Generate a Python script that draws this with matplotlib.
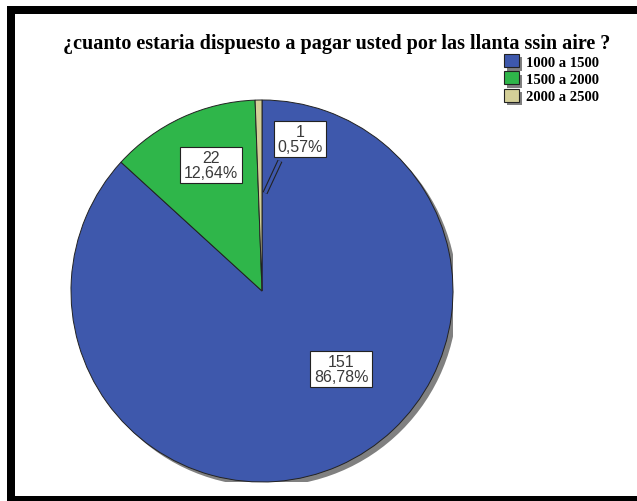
import numpy as np
import matplotlib
matplotlib.use('Agg')
import matplotlib.pyplot as plt
from matplotlib.patches import Circle, Rectangle, Patch
from matplotlib.transforms import ScaledTranslation
import matplotlib.patheffects as pe

# datos de la encuesta
categorias = ['1000 a 1500', '1500 a 2000', '2000 a 2500']
frecuencias = [151, 22, 1]
porcentajes = ['86,78%', '12,64%', '0,57%']
colores = ['#3e58ac', '#2fb64a', '#d4cf98']
titulo = '¿cuanto estaria dispuesto a pagar usted por las llanta ssin aire ?'

# posicion de las etiquetas dentro del circulo (radio 1)
pos_etiquetas = [(0.414, -0.408), (-0.267, 0.660), (0.199, 0.796)]

W, H = 637, 502
fig = plt.figure(figsize=(W / 100, H / 100), dpi=100)
fig.patch.set_facecolor('white')

# marco negro (bandas en pixeles: x0, y0 desde arriba, ancho, alto)
for x0, y0, bw, bh in [(7, 7, 8, 495), (7, 7, 630, 8), (7, 497, 630, 5)]:
    fig.patches.append(Rectangle((x0 / W, 1 - (y0 + bh) / H), bw / W, bh / H,
                                 transform=fig.transFigure, facecolor='black',
                                 edgecolor='none'))

cx, cy, r = 262, 292, 191
ax = fig.add_axes([(cx - r) / W, (H - cy - r) / H, 2 * r / W, 2 * r / H])
ax.set_xlim(-1, 1)
ax.set_ylim(-1, 1)
ax.axis('off')

# sombra del circulo
sombra = Circle((0, 0), 1, facecolor='#808080', edgecolor='none', zorder=0,
                transform=ax.transData + ScaledTranslation(3.2 / 72, -3.2 / 72, fig.dpi_scale_trans))
ax.add_patch(sombra)

wedges, _ = ax.pie(frecuencias, colors=colores, startangle=90, counterclock=False,
                   radius=1, frame=False,
                   wedgeprops=dict(edgecolor='#222222', linewidth=0.7, zorder=1))
ax.set_xlim(-1, 1)
ax.set_ylim(-1, 1)

for (x, y), n, p in zip(pos_etiquetas, frecuencias, porcentajes):
    ax.text(x, y, f'{n}\n{p}', ha='center', va='center', fontsize=11.5,
            family='Liberation Sans', color='#3a3a3a', linespacing=0.95, zorder=5,
            bbox=dict(boxstyle='square,pad=0.22', facecolor='white',
                      edgecolor='#222222', linewidth=0.8))

# linea guia doble de la porcion pequeña
ax.plot([0.094, 0.016], [0.681, 0.513], color=colores[0],
        linewidth=2.2, zorder=4, solid_capstyle='butt',
        path_effects=[pe.Stroke(linewidth=3.8, foreground='#222222'), pe.Normal()])

fig.text(337 / W, 1 - 44 / H, titulo, ha='center', va='center', fontsize=14.5,
         family='Liberation Serif', fontweight='bold')

handles = [Patch(facecolor=c, edgecolor='#222222', linewidth=0.8,
                 path_effects=[pe.SimplePatchShadow(offset=(2.5, -2.5), shadow_rgbFace='#808080', alpha=1),
                               pe.Normal()])
           for c in colores]
leg = fig.legend(handles, categorias, loc='upper left', bbox_to_anchor=(504 / W, 1 - 55 / H),
                 frameon=False, prop=dict(family='Liberation Serif', weight='bold', size=10.5),
                 handlelength=1.0, handleheight=1.0, handletextpad=0.5, labelspacing=0.2,
                 borderaxespad=0, borderpad=0)

fig.savefig('out.png', dpi=100, facecolor='white')
